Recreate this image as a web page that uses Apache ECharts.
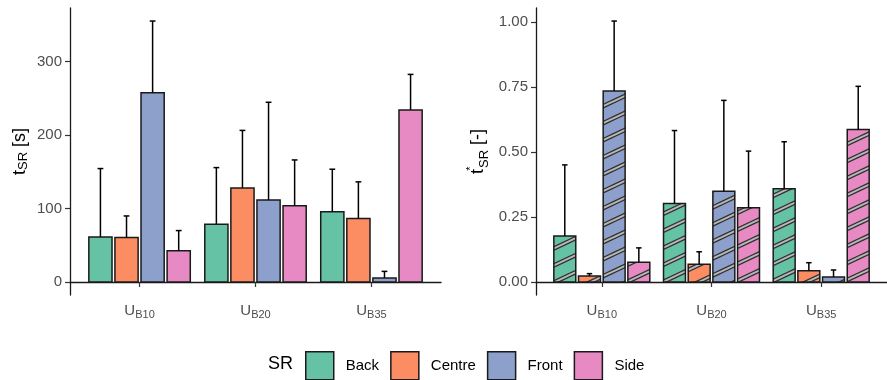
<!DOCTYPE html>
<html>
<head>
<meta charset="utf-8">
<script src="https://cdn.jsdelivr.net/npm/echarts@6/dist/echarts.min.js"></script>
<style>
html,body{margin:0;padding:0;background:#fff;}
#chart{width:887px;height:380px;}
</style>
</head>
<body>
<div id="chart"></div>
<script>
// ---- data ----
const categories = ['B10', 'B20', 'B35'];
const groups = ['Back', 'Centre', 'Front', 'Side'];

// t_SR [s] : mean and upper (mean + sd)
const tBack = [61.3, 78.5, 95.6];
const tBackUpper = [154.3, 155.6, 153.4];
const tCentre = [60.4, 127.7, 86.2];
const tCentreUpper = [89.8, 206.2, 136.2];
const tFront = [257.6, 111.4, 5.4];
const tFrontUpper = [355.0, 244.5, 14.4];
const tSide = [42.4, 103.8, 234.1];
const tSideUpper = [69.9, 166.0, 282.4];

// t*_SR [-] : mean and upper
const nBack = [0.177, 0.302, 0.358];
const nBackUpper = [0.450, 0.582, 0.539];
const nCentre = [0.023, 0.068, 0.043];
const nCentreUpper = [0.032, 0.116, 0.074];
const nFront = [0.734, 0.349, 0.019];
const nFrontUpper = [1.003, 0.698, 0.046];
const nSide = [0.076, 0.285, 0.586];
const nSideUpper = [0.131, 0.503, 0.752];

const leftTicks = [0, 100, 200, 300];
const rightTicks = [0, 0.25, 0.5, 0.75, 1.0];
const xTicks = [1, 2, 3];

// ---- styling ----
const colors = ['#66C2A5', '#FC8D62', '#8DA0CB', '#E78AC3'];
const FONT = 'Liberation Sans, Arial, sans-serif';
const leftMeans = [tBack, tCentre, tFront, tSide];
const leftUppers = [tBackUpper, tCentreUpper, tFrontUpper, tSideUpper];
const rightMeans = [nBack, nCentre, nFront, nSide];
const rightUppers = [nBackUpper, nCentreUpper, nFrontUpper, nSideUpper];

function stripePattern() {
  const W = 36, H = 17;
  const c = document.createElement('canvas');
  c.width = W; c.height = H;
  const ctx = c.getContext('2d');
  for (const pass of [['#303030', 4.4], ['#b8b8b8', 2.0]]) {
    ctx.strokeStyle = pass[0];
    ctx.lineWidth = pass[1];
    for (let m = -1; m <= 1; m++) {
      ctx.beginPath();
      ctx.moveTo(-W, H + m * H + H);
      ctx.lineTo(2 * W, m * H - H);
      ctx.stroke();
    }
  }
  return c;
}
const pat = stripePattern();

function makeRender(j, hatched) {
  return function (params, api) {
    const xc = api.value(0) + (j - 1.5) * 0.225;
    const v = api.value(1), up = api.value(2);
    const p0 = api.coord([xc - 0.1, 0]);
    const p1 = api.coord([xc + 0.1, v]);
    const shape = { x: p0[0], y: p1[1], width: p1[0] - p0[0], height: p0[1] - p1[1] };
    const top = api.coord([xc, v]);
    const eTop = api.coord([xc, up]);
    const cL = api.coord([xc - 0.025, up]);
    const cR = api.coord([xc + 0.025, up]);
    const children = [
      { type: 'rect', shape: shape, style: { fill: colors[j] } }
    ];
    if (hatched) {
      children.push({ type: 'rect', shape: shape, style: { fill: { image: pat, repeat: 'repeat' } } });
    }
    children.push({ type: 'rect', shape: shape, style: { fill: null, stroke: '#1a1a1a', lineWidth: 1.5 } });
    children.push({ type: 'line', shape: { x1: top[0], y1: top[1], x2: eTop[0], y2: eTop[1] }, style: { stroke: '#000', lineWidth: 1.5 } });
    children.push({ type: 'line', shape: { x1: cL[0], y1: cL[1], x2: cR[0], y2: cR[1] }, style: { stroke: '#000', lineWidth: 1.5 } });
    return { type: 'group', children: children };
  };
}

function maxOf(arrs) { return Math.max.apply(null, arrs.flat()); }
const lMax = maxOf(leftUppers), rMax = maxOf(rightUppers);

const axisLineStyle = { color: '#1a1a1a', width: 1.3 };
const tickLabelStyle = { color: '#4D4D4D', fontSize: 15, fontFamily: FONT };

function xAxis(gridIndex) {
  return {
    type: 'value', gridIndex: gridIndex, min: 0.4, max: 3.6,
    splitLine: { show: false },
    axisLine: { show: true, lineStyle: axisLineStyle },
    axisTick: { show: true, length: 5, customValues: xTicks, lineStyle: { color: '#333', width: 1.2 } },
    axisLabel: {
      customValues: xTicks, margin: 7,
      formatter: function (v) { return '{u|U}{s|' + categories[Math.round(v) - 1] + '}'; },
      rich: {
        u: { fontSize: 15, color: '#4D4D4D', fontFamily: FONT, lineHeight: 18 },
        s: { fontSize: 11, color: '#4D4D4D', fontFamily: FONT, verticalAlign: 'bottom', lineHeight: 8 }
      }
    }
  };
}

const series = [];
groups.forEach(function (g, j) {
  series.push({
    name: g, type: 'custom', xAxisIndex: 0, yAxisIndex: 0,
    itemStyle: { color: colors[j] },
    renderItem: makeRender(j, false),
    encode: { x: 0, y: [1, 2] },
    data: categories.map(function (c, i) { return [i + 1, leftMeans[j][i], leftUppers[j][i]]; })
  });
});
groups.forEach(function (g, j) {
  series.push({
    name: g, type: 'custom', xAxisIndex: 1, yAxisIndex: 1,
    itemStyle: { color: colors[j] },
    renderItem: makeRender(j, true),
    encode: { x: 0, y: [1, 2] },
    data: categories.map(function (c, i) { return [i + 1, rightMeans[j][i], rightUppers[j][i]]; })
  });
});

const chart = echarts.init(document.getElementById('chart'), null, { renderer: 'canvas' });
chart.setOption({
  animation: false,
  backgroundColor: '#fff',
  textStyle: { fontFamily: FONT },
  title: {
    text: 'SR', left: 268, top: 355, padding: 0,
    textStyle: { fontSize: 18, fontWeight: 'normal', color: '#000', fontFamily: FONT }
  },
  legend: {
    data: groups, left: 305, top: 351, padding: 0, icon: 'rect',
    itemWidth: 28, itemHeight: 28, itemGap: 11,
    itemStyle: { borderColor: '#1a1a1a', borderWidth: 1.5 },
    textStyle: { fontSize: 15, color: '#000', fontFamily: FONT, padding: [0, 0, 0, 7] },
    selectedMode: false
  },
  grid: [
    { left: 70, top: 8, width: 371, height: 287 },
    { left: 536, top: 8, width: 360, height: 287 }
  ],
  xAxis: [xAxis(0), xAxis(1)],
  yAxis: [
    {
      type: 'value', gridIndex: 0, min: -0.05 * lMax, max: 1.05 * lMax,
      splitLine: { show: false },
      axisLine: { show: true, lineStyle: axisLineStyle },
      axisTick: { show: true, length: 5, customValues: leftTicks, lineStyle: { color: '#333', width: 1.2 } },
      axisLabel: Object.assign({ customValues: leftTicks, margin: 8 }, tickLabelStyle),
      name: '{t|t}{s|SR}{n| [s]}', nameLocation: 'middle', nameRotate: 90, nameGap: 40,
      nameTextStyle: {
        rich: {
          t: { fontSize: 18, color: '#000', fontFamily: FONT, lineHeight: 20 },
          s: { fontSize: 13, color: '#000', fontFamily: FONT, verticalAlign: 'bottom', lineHeight: 10 },
          n: { fontSize: 18, color: '#000', fontFamily: FONT, lineHeight: 20 }
        }
      }
    },
    {
      type: 'value', gridIndex: 1, min: -0.05 * rMax, max: 1.05 * rMax,
      splitLine: { show: false },
      axisLine: { show: true, lineStyle: axisLineStyle },
      axisTick: { show: true, length: 5, customValues: rightTicks, lineStyle: { color: '#333', width: 1.2 } },
      axisLabel: Object.assign({ customValues: rightTicks, margin: 8, formatter: function (v) { return v.toFixed(2); } }, tickLabelStyle),
      name: '{t|t}{p|*}{s|SR}{n| [-]}', nameLocation: 'middle', nameRotate: 90, nameGap: 45,
      nameTextStyle: {
        rich: {
          t: { fontSize: 18, color: '#000', fontFamily: FONT, lineHeight: 26 },
          p: { fontSize: 11, color: '#000', fontFamily: FONT, verticalAlign: 'top', lineHeight: 6, width: 1 },
          s: { fontSize: 13, color: '#000', fontFamily: FONT, verticalAlign: 'bottom', lineHeight: 14 },
          n: { fontSize: 18, color: '#000', fontFamily: FONT, lineHeight: 26 }
        }
      }
    }
  ],
  series: series
});
</script>
</body>
</html>
